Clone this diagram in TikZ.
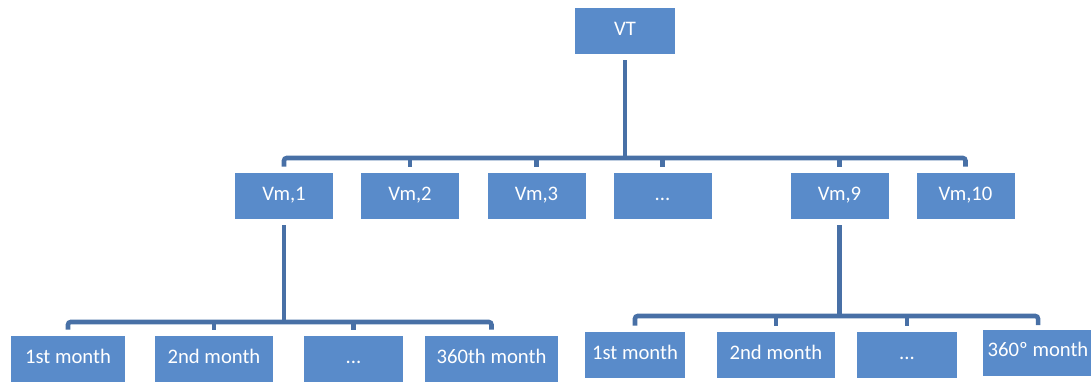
\documentclass[tikz,border=0pt]{standalone}
\usepackage{fontspec}
\setmainfont{Carlito}
\usetikzlibrary{calc}

\definecolor{boxblue}{RGB}{89,139,202}
\definecolor{lineblue}{RGB}{72,112,166}

\tikzset{
  box/.style={fill=boxblue, text=white, minimum height=34.5pt,
    inner sep=0pt, text height=0.66em, text depth=0pt,
    font=\fontsize{15.5}{17}\selectfont},
  conn/.style={lineblue, line width=3.6pt},
  bar/.style={lineblue, line width=3.4pt, rounded corners=2pt}
}

\begin{document}
\begin{tikzpicture}[x=0.75pt, y=-0.75pt]
  \useasboundingbox (0,0) rectangle (1091,382);

  % Spitze
  \node[box, minimum width=75pt] (vt) at (625,31) {VT};

  % mittlere Ebene
  \node[box, minimum width=73.5pt] (vm1)  at (284,196)   {Vm,1};
  \node[box, minimum width=73.5pt] (vm2)  at (410,196)   {Vm,2};
  \node[box, minimum width=73.5pt] (vm3)  at (536.5,196) {Vm,3};
  \node[box, minimum width=73.5pt] (vmd)  at (662.5,196) {...};
  \node[box, minimum width=73.5pt] (vm9)  at (839.5,196) {Vm,9};
  \node[box, minimum width=73.5pt] (vm10) at (965.5,196) {Vm,10};

  % Monate unter Vm,1
  \node[box, minimum width=85.5pt] (la) at (68,359)    {1st month};
  \node[box, minimum width=88.5pt] (lb) at (214,359)   {2nd month};
  \node[box, minimum width=74.25pt] (lc) at (353.5,359) {...};
  \node[box, minimum width=99.75pt] (ld) at (491.5,359) {360th month};

  % Monate unter Vm,9
  \node[box, minimum width=75pt]   (ra) at (635,355)  {1st month};
  \node[box, minimum width=88.5pt] (rb) at (776,355)  {2nd month};
  \node[box, minimum width=75pt]   (rc) at (907,355)  {...};
  \node[box, minimum width=82.5pt] (rd) at (1038,352.5) {360º month};

  % Verbindungen VT
  \coordinate (barm) at (0,158);
  \draw[conn] ($(vt.south)+(0,6)$) -- (vt.south |- barm);
  \draw[bar] ($(vm1.north)+(0,-6)$) -- (vm1.north |- barm)
    -- (vm10.north |- barm) -- ($(vm10.north)+(0,-6)$);
  \foreach \n in {vm2,vm3,vmd,vm9}
    \draw[conn] (\n.north |- barm) -- ($(\n.north)+(0,-6)$);

  % Verbindungen Vm,1
  \coordinate (barl) at (0,322);
  \draw[conn] ($(vm1.south)+(0,6)$) -- (vm1.south |- barl);
  \draw[bar] ($(la.north)+(0,-6)$) -- (la.north |- barl)
    -- (ld.north |- barl) -- ($(ld.north)+(0,-6)$);
  \foreach \n in {lb,lc}
    \draw[conn] (\n.north |- barl) -- ($(\n.north)+(0,-6)$);

  % Verbindungen Vm,9
  \coordinate (barr) at (0,316);
  \draw[conn] ($(vm9.south)+(0,6)$) -- (vm9.south |- barr);
  \draw[bar] ($(ra.north)+(0,-6)$) -- (ra.north |- barr)
    -- (rd.north |- barr) -- ($(rd.north)+(0,-4)$);
  \foreach \n in {rb,rc}
    \draw[conn] (\n.north |- barr) -- ($(\n.north)+(0,-6)$);
\end{tikzpicture}
\end{document}
